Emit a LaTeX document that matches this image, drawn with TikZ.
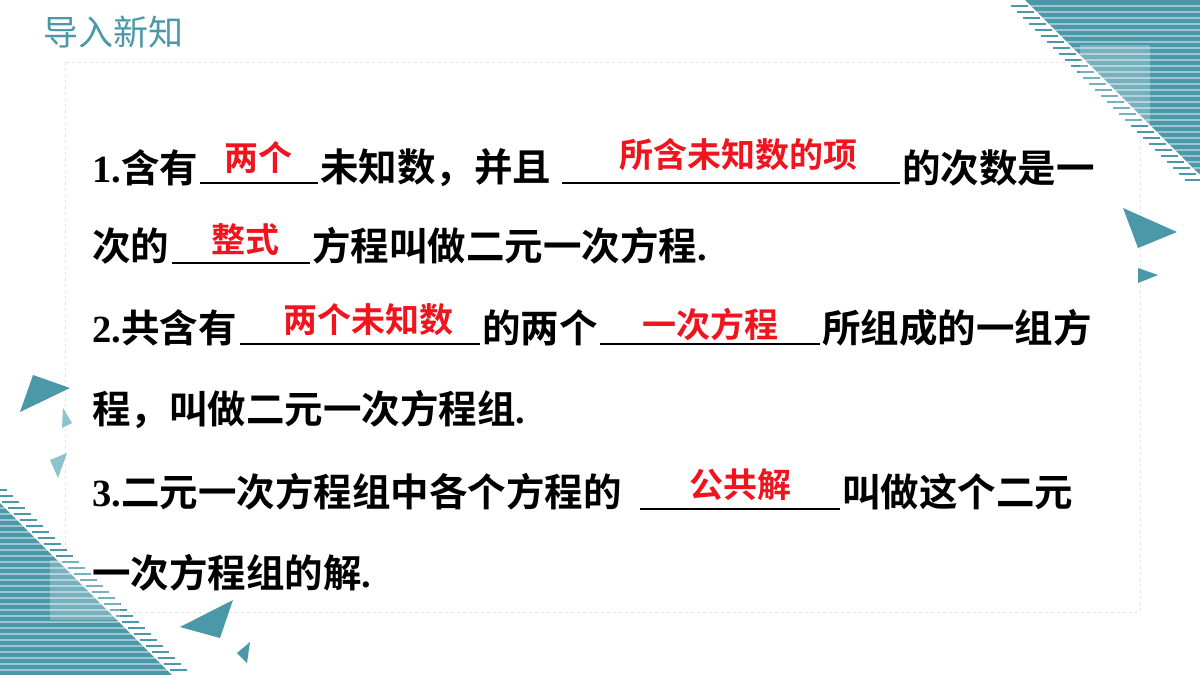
\documentclass[tikz,border=0pt]{standalone}
\usepackage{fontspec}
\setmainfont{Liberation Serif}
\newfontfamily\cjk{Noto Sans CJK SC}
\newfontfamily\cjkb{Noto Sans CJK SC Bold}
\definecolor{teal1}{HTML}{4A98A8}
\definecolor{teal2}{HTML}{8CC3CE}
\definecolor{ansred}{HTML}{F0141E}
\begin{document}
\begin{tikzpicture}[x=1pt, y=-1pt,
    txt/.style={anchor=west, inner sep=0pt, font=\fontsize{38.5}{38}\selectfont\cjkb},
    ans/.style={anchor=base, inner sep=0pt, text=ansred, font=\fontsize{34}{34}\selectfont\cjkb},
    blank/.style={draw=black, line width=1.2pt},
    tri/.style={fill=teal1, draw=none}]
	\useasboundingbox (0,0) rectangle (1200,675);
	% frame and corners
	\draw[gray!20, dashed, line width=1pt] (65,62) rectangle (1140,612);
	\fill[tri] (1025,0) -- (1200,0) -- (1200,175) -- cycle;
	\foreach \y in {6,12,...,180} {
		\draw[white, opacity=.45, line width=1.3pt] ({1025+\y},\y) -- (1200,\y);
		\draw[teal1, line width=2pt] ({1005+\y},\y) -- ({1022+\y},\y);
	}
	\fill[white, opacity=.25] (1080,45) rectangle (1150,125);
	\fill[tri] (0,503) -- (0,675) -- (172,675) -- cycle;
	\foreach \y in {490,496,...,672} {
		\draw[white, opacity=.45, line width=1.3pt] (0,\y) -- ({\y-503},\y);
		\draw[teal1, line width=2pt] ({\y-500},\y) -- ({\y-483},\y);
	}
	\fill[white, opacity=.25] (50,560) rectangle (120,620);
	\fill[tri] (1123,208) -- (1177,232) -- (1138,248) -- cycle;
	\fill[tri] (1138,268) -- (1158,275) -- (1138,283) -- cycle;
	\fill[tri] (33,375) -- (70,388) -- (20,412) -- cycle;
	\fill[teal2] (63,408) -- (72,423) -- (62,428) -- cycle;
	\fill[teal2] (50,460) -- (67,453) -- (58,478) -- cycle;
	\fill[tri] (180,627) -- (233,600) -- (220,638) -- cycle;
	\fill[tri] (237,653) -- (250,642) -- (247,663) -- cycle;
	% title
	\node[anchor=west, inner sep=0pt, text=teal1, font=\fontsize{35}{35}\selectfont\cjk] (title) at (43,32) {导入新知};
	% line 1
	\node[txt] (l1a) at (92,168) {{\fontspec{Liberation Serif Bold}1.}含有};
	\node[txt] (l1b) at (320,168) {未知数，并且};
	\node[txt] (l1c) at (902,168) {的次数是一};
	\draw[blank] (200,183) coordinate (u1s) -- (318,183) coordinate (u1e);
	\draw[blank] (562,183) coordinate (u2s) -- (900,183) coordinate (u2e);
	\node[ans] (a1) at (258,170) {两个};
	\node[ans] (a2) at (738,167) {所含未知数的项};
	% line 2
	\node[txt] (l2a) at (92,246) {次的};
	\node[txt] (l2b) at (312,246) {方程叫做二元一次方程{\fontspec{Liberation Serif Bold}.}};
	\draw[blank] (172,263) coordinate (u3s) -- (310,263) coordinate (u3e);
	\node[ans] (a3) at (245,252) {整式};
	% line 3
	\node[txt] (l3a) at (92,328) {{\fontspec{Liberation Serif Bold}2.}共含有};
	\node[txt] (l3b) at (482,328) {的两个};
	\node[txt] (l3c) at (822,328) {所组成的一组方};
	\draw[blank] (240,344) coordinate (u4s) -- (480,344) coordinate (u4e);
	\draw[blank] (600,344) coordinate (u5s) -- (820,344) coordinate (u5e);
	\node[ans] (a4) at (368,332) {两个未知数};
	\node[ans] (a5) at (710,337) {一次方程};
	% line 4
	\node[txt] (l4a) at (92,410) {程，叫做二元一次方程组{\fontspec{Liberation Serif Bold}.}};
	% line 5
	\node[txt] (l5a) at (92,492) {{\fontspec{Liberation Serif Bold}3.}二元一次方程组中各个方程的};
	\node[txt] (l5b) at (842,492) {叫做这个二元};
	\draw[blank] (640,509) coordinate (u6s) -- (840,509) coordinate (u6e);
	\node[ans] (a6) at (740,497) {公共解};
	% line 6
	\node[txt] (l6a) at (92,573) {一次方程组的解{\fontspec{Liberation Serif Bold}.}};
\end{tikzpicture}
\end{document}
